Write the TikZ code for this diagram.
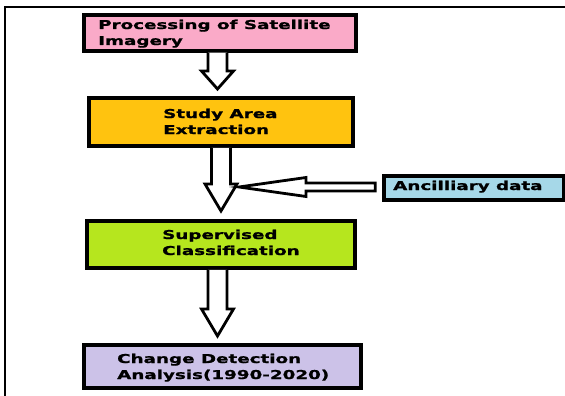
\documentclass[tikz,border=0pt]{standalone}
\usepackage{fontspec}
\setmainfont{DejaVu Sans}
\newfontfamily\lblfont{DejaVu Sans}[FakeStretch=1.5, BoldFeatures={FakeBold=1.2}]
\usetikzlibrary{calc}
\definecolor{cpink}{RGB}{250,170,200}
\definecolor{corange}{RGB}{255,195,15}
\definecolor{cgreen}{RGB}{182,230,30}
\definecolor{cpurple}{RGB}{204,194,232}
\definecolor{cblue}{RGB}{166,216,232}
\tikzset{
  x=1pt, y=-1pt,
  boxstyle/.style={draw=black, line width=3.5pt, inner sep=0pt},
  lbl/.style={font=\lblfont\bfseries\fontsize{12.2}{14}\selectfont, inner sep=0pt, anchor=base west},
  blockarrow/.style={draw=black, fill=white, line width=2.8pt, line join=miter},
  framestyle/.style={draw=black, line width=1.4pt}
}
\begin{document}
\begin{tikzpicture}
\useasboundingbox (0,0) rectangle (565,396);
% frame
\coordinate (ftr) at (566,7);
\coordinate (ftl) at (5,7);
\coordinate (fbl) at (5,397);
\draw[framestyle] (ftr) -- (ftl) -- (fbl);
% boxes
\node[boxstyle, fill=cpink, minimum width=272pt, minimum height=36pt] (b1) at (220,33) {};
\node[boxstyle, fill=corange, minimum width=264pt, minimum height=48pt] (b2) at (221,122) {};
\node[boxstyle, fill=cgreen, minimum width=268pt, minimum height=47pt] (b3) at (221,244.5) {};
\node[boxstyle, fill=cpurple, minimum width=277pt, minimum height=43pt] (b4) at (222.5,366.5) {};
\node[boxstyle, fill=cblue, minimum width=180pt, minimum height=24pt] (b5) at (474,188) {};
% labels
\node[lbl] (t1a) at (98,29) {Processing of Satellite};
\node[lbl] (t1b) at (98,45) {Imagery};
\node[lbl] (t2a) at (163,118) {Study Area};
\node[lbl] (t2b) at (163,134) {Extraction};
\node[lbl] (t3a) at (162,239) {Supervised};
\node[lbl] (t3b) at (162,255) {Classification};
\node[lbl] (t4a) at (117,363) {Change Detection};
\node[lbl] (t4b) at (117,379) {Analysis(1990-2020)};
\node[lbl] (t5) at (393,190) {Ancilliary data};
% arrow 1
\draw[blockarrow] let \p1=(b1.south), \p2=(b2.north) in
  (217.5pt-9.5pt,\y1) -- (217.5pt-9.5pt,-71pt) -- (217.5pt-16pt,-71pt) -- (217.5pt,-89pt)
  -- (217.5pt+16pt,-71pt) -- (217.5pt+9.5pt,-71pt) -- (217.5pt+9.5pt,\y1);
% arrow 2
\draw[blockarrow] let \p1=(b2.south), \p2=(b3.north) in
  (221pt-9.5pt,\y1) -- (221pt-9.5pt,-184pt) -- (221pt-16pt,-184pt) -- (221pt,-211pt)
  -- (221pt+16pt,-184pt) -- (221pt+9.5pt,-184pt) -- (221pt+9.5pt,\y1);
% ancilliary arrow
\coordinate (ancend) at ($(b5.west)+(-7,-1)$);
\draw[blockarrow] let \p1=(ancend) in
  (\x1,\y1+4pt) -- (306pt,\y1+4pt) -- (306pt,\y1+9.5pt) -- (239pt,\y1)
  -- (306pt,\y1-9.5pt) -- (306pt,\y1-4pt) -- (\x1,\y1-4pt) -- cycle;
% arrow 3
\draw[blockarrow] let \p1=(b3.south), \p2=(b4.north) in
  (217.5pt-9.5pt,\y1) -- (217.5pt-9.5pt,-309pt) -- (217.5pt-16pt,-309pt) -- (217.5pt,-336pt)
  -- (217.5pt+16pt,-309pt) -- (217.5pt+9.5pt,-309pt) -- (217.5pt+9.5pt,\y1);
\end{tikzpicture}
\end{document}
